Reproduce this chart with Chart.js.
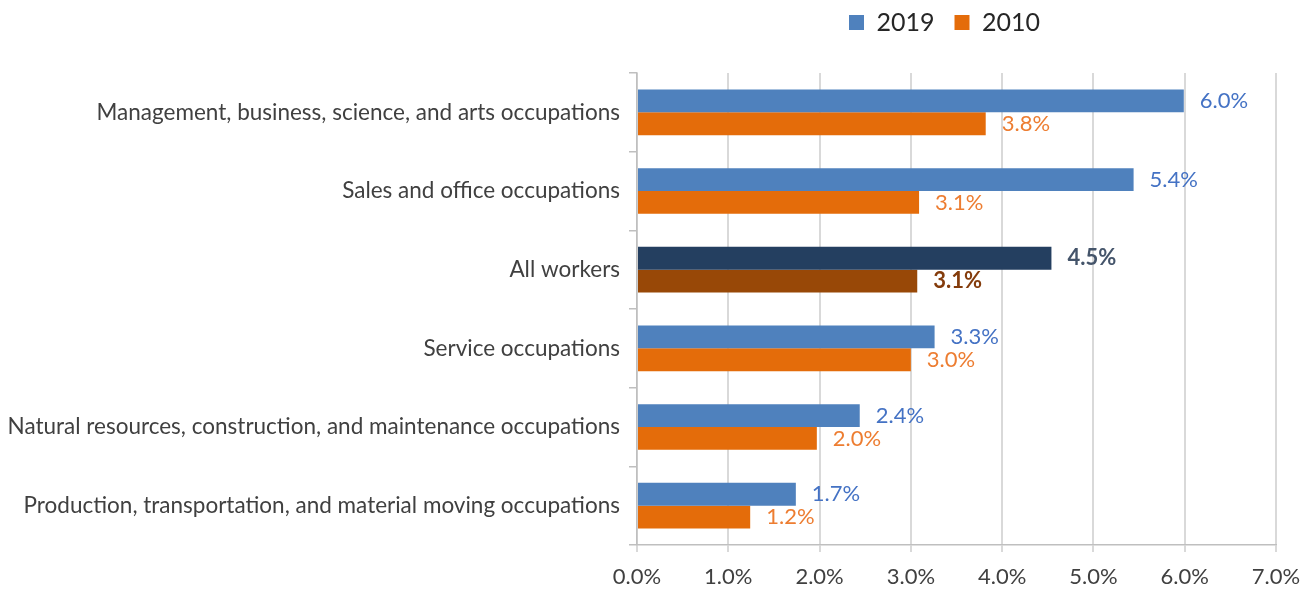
<!DOCTYPE html>
<html>
<head>
<meta charset="utf-8">
<script src="https://cdn.jsdelivr.net/npm/chart.js@4"></script>
<style>
  html, body { margin: 0; padding: 0; background: #fff; }
  #wrap { width: 1306px; height: 590px; }
</style>
</head>
<body>
<div id="wrap"><canvas id="chart"></canvas></div>
<script>
const categories = [
  'Management, business, science, and arts occupations',
  'Sales and office occupations',
  'All workers',
  'Service occupations',
  'Natural resources, construction, and maintenance occupations',
  'Production, transportation, and material moving occupations'
]
const values2019 = [5.99, 5.44, 4.54, 3.26, 2.44, 1.74]
const values2010 = [3.82, 3.09, 3.07, 3.0, 1.97, 1.24]
const highlightIndex = 2

const blue = '#4F81BD', orange = '#E46C0A'
const navy = '#243F60', brown = '#984807'

// labels at the end of each bar
const barLabels = {
  id: 'barLabels',
  afterDatasetsDraw(chart) {
    const ctx = chart.ctx
    chart.data.datasets.forEach((ds, i) => {
      const meta = chart.getDatasetMeta(i)
      meta.data.forEach((bar, j) => {
        const bold = j === highlightIndex
        ctx.save()
        ctx.font = (bold ? 'bold ' : '') + '22px Lato'
        ctx.fillStyle = bold ? ds.labelBold : ds.labelColor
        ctx.textAlign = 'left'
        ctx.textBaseline = 'middle'
        ctx.fillText(ds.data[j].toFixed(1) + '%', bar.x + 16, bar.y)
        ctx.restore()
      })
    })
  }
}

// center the legend over the plot area, like the original
const legendOverPlot = {
  id: 'legendOverPlot',
  afterLayout(chart) {
    const lg = chart.legend
    lg.left = chart.chartArea.left - 12
    lg.right = chart.chartArea.right - 12
    lg.top -= 28
  }
}

new Chart(document.getElementById('chart'), {
  type: 'bar',
  data: {
    labels: categories,
    datasets: [
      {
        label: '2019',
        data: values2019,
        backgroundColor: c => c.dataIndex === highlightIndex ? navy : blue,
        labelColor: '#4472C4',
        labelBold: '#44546A'
      },
      {
        label: '2010',
        data: values2010,
        backgroundColor: c => c.dataIndex === highlightIndex ? brown : orange,
        labelColor: '#ED7D31',
        labelBold: '#843C0C'
      }
    ]
  },
  options: {
    indexAxis: 'y',
    responsive: true,
    maintainAspectRatio: false,
    animation: false,
    layout: { padding: { top: 18, right: 30, bottom: 0, left: 0 } },
    datasets: {
      bar: { categoryPercentage: 0.58, barPercentage: 1.0, borderWidth: 0 }
    },
    plugins: {
      legend: {
        position: 'top',
        labels: {
          boxWidth: 15,
          boxHeight: 15,
          padding: 20,
          color: '#262626',
          font: { family: 'Lato', size: 25 }
        }
      },
      tooltip: { enabled: false }
    },
    scales: {
      x: {
        min: 0,
        max: 7,
        ticks: {
          stepSize: 1,
          padding: 12,
          color: '#404040',
          font: { family: 'Lato', size: 22 },
          callback: v => v.toFixed(1) + '%'
        },
        grid: { color: '#d9d9d9', lineWidth: 2, tickLength: 7 },
        border: { color: '#bfbfbf', width: 1.5 },
        afterFit(scale) {
          scale.height = 45
          scale.paddingRight = 0
          scale.paddingLeft = 0
        }
      },
      y: {
        ticks: {
          padding: 9,
          color: '#404040',
          font: { family: 'Lato', size: 22.5 }
        },
        grid: { offset: true, drawOnChartArea: false, color: '#bfbfbf', lineWidth: 1.5, tickLength: 8 },
        border: { color: '#bfbfbf', width: 1.5 },
        afterFit(scale) { scale.width = 637 }
      }
    }
  },
  plugins: [barLabels, legendOverPlot]
})
</script>
</body>
</html>
